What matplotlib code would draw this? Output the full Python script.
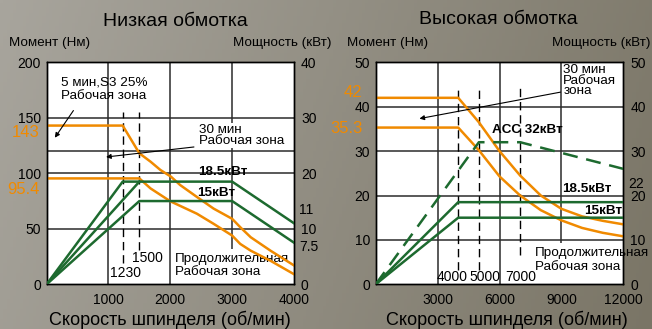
import numpy as np
import matplotlib
matplotlib.use("Agg")
import matplotlib.pyplot as plt
from matplotlib.transforms import blended_transform_factory
from matplotlib.patches import Rectangle

plt.rcParams['font.family'] = ['Liberation Sans', 'DejaVu Sans']

# ---------------- data: low-speed winding ----------------
low_xticks = [1000, 2000, 3000, 4000]
low_torque_ticks = [0, 50, 100, 150, 200]
low_power_ticks = [0, 10, 20, 30, 40]

low_s3_speed = [0, 1230, 1500, 1680, 1840, 2010, 2160, 2430, 2700, 3000, 3130, 3300, 3620, 4000]
low_s3_torque = [143, 143, 118, 110.5, 103, 97, 89.4, 78.7, 68.2, 59, 51.5, 42.4, 30.3, 17]
low_30_speed = [0, 1500, 1680, 2000, 2430, 2700, 3000, 3130, 3300, 3620, 4000]
low_30_torque = [95.4, 95.4, 86.4, 74.8, 63.6, 54.5, 43.9, 36.4, 30.3, 21.2, 9.1]

low_p185a_speed = [0, 1230, 3000, 4000]
low_p185a_power = [0, 18.5, 18.5, 11]
low_p185b_speed = [0, 1500]
low_p185b_power = [0, 18.5]
low_p15_speed = [0, 1500, 3000, 4000]
low_p15_power = [0, 15, 15, 7.5]
low_base_speeds = [1230, 1500]

# ---------------- data: high-speed winding ----------------
high_xticks = [3000, 6000, 9000, 12000]
high_torque_ticks = [0, 10, 20, 30, 40, 50]
high_power_ticks = [0, 10, 20, 30, 40, 50]

high_s3_speed = [0, 4000, 5000, 6000, 7000, 8000, 9000, 10000, 11000, 12000]
high_s3_torque = [42, 42, 36.5, 30, 24.5, 20, 17, 15.3, 14.3, 13.5]
high_30_speed = [0, 4000, 5000, 6000, 7000, 8000, 9000, 10000, 11000, 12000]
high_30_torque = [35.3, 35.3, 30.2, 24.3, 20, 16.7, 14.4, 12.7, 11.6, 10.8]

high_p185_speed = [0, 4000, 12000]
high_p185_power = [0, 18.5, 18.5]
high_p15_speed = [0, 4000, 12000]
high_p15_power = [0, 15, 15]
high_acc_speed = [0, 5000, 7000, 12000]
high_acc_power = [0, 32, 32, 26]
high_base_speeds = [4000, 5000, 7000]

ORANGE = '#f08a00'
GREEN = '#1d6a2f'
GRID = '#2b2b2b'
TICK_FS = 10
LABEL_FS = 9.7

W, H = 652, 329
fig = plt.figure(figsize=(W / 100, H / 100), dpi=100)

# background gradient
bg = fig.add_axes([0, 0, 1, 1], zorder=-10)
xx = np.linspace(0, 1, 200)[None, :]
yy = np.linspace(0, 1, 100)[:, None]
c0 = np.array([168, 165, 157]) / 255
c1 = np.array([122, 117, 102]) / 255
t = np.clip(0.85 * xx + 0.15 * yy, 0, 1)
img = c0[None, None, :] * (1 - t[..., None]) + c1[None, None, :] * t[..., None]
bg.imshow(img, aspect='auto', extent=[0, 1, 0, 1], origin='upper')
bg.set_axis_off()


def px_axes(x0, x1, y0, y1):
    return fig.add_axes([x0 / W, 1 - y1 / H, (x1 - x0) / W, (y1 - y0) / H])


def style(ax, ax2, xmax, xticks, ymax, yticks, pmax, pticks):
    ax.set_facecolor('white')
    ax.set_xlim(0, xmax)
    ax.set_ylim(0, ymax)
    ax2.set_ylim(0, pmax)
    ax.set_xticks(xticks)
    ax.set_yticks(yticks)
    ax2.set_yticks(pticks)
    for a in (ax, ax2):
        a.tick_params(length=0, labelsize=TICK_FS, colors='black')
        for s in a.spines.values():
            s.set_color('black')
            s.set_linewidth(1.0)
    ax.tick_params(axis='x', pad=6.5)
    ax.tick_params(axis='y', pad=4)
    ax2.tick_params(axis='y', pad=5)


# ================= low-speed winding =================
ax = px_axes(46.6, 294, 62.3, 284.3)
ax2 = ax.twinx()
style(ax, ax2, 4000, low_xticks, 200, low_torque_ticks, 40, low_power_ticks)
for xv in low_xticks[:-1]:
    ax.axvline(xv, color=GRID, lw=1.1, zorder=1)
for yv in [50, 100, 120, 150]:
    ax.axhline(yv, color=GRID, lw=1.1, zorder=1)

ax.add_patch(Rectangle((2040, 0.5), 1955, 31, facecolor='white', edgecolor='none', zorder=2))
for xv, ylo in zip(low_base_speeds, [19.5, 30.5]):
    ax.plot([xv, xv], [ylo, 155], color='black', lw=1.0, dashes=(6, 3.5), zorder=3)

ax.plot(low_s3_speed, low_s3_torque, color=ORANGE, lw=1.8, zorder=5)
ax.plot(low_30_speed, low_30_torque, color=ORANGE, lw=1.8, zorder=5)
ax2.plot(low_p185a_speed, low_p185a_power, color=GREEN, lw=1.8, zorder=5)
ax2.plot(low_p185b_speed, low_p185b_power, color=GREEN, lw=1.8, zorder=5)
ax2.plot(low_p15_speed, low_p15_power, color=GREEN, lw=1.8, zorder=5)

ax.text(930, 175.5, '5 мин,S3 25%\nРабочая зона', fontsize=LABEL_FS, ha='center', va='center',
        linespacing=1.2, zorder=6)
ax.annotate('', xy=(108, 130), xytext=(459, 158.6),
            arrowprops=dict(arrowstyle='-|>', color='black', lw=0.8, mutation_scale=7), zorder=6)
ax.text(2469, 134, '30 мин\nРабочая зона', fontsize=LABEL_FS, ha='left', va='center',
        linespacing=0.95, zorder=6,
        bbox=dict(facecolor='white', edgecolor='none', pad=0.8))
ax.annotate('', xy=(917, 114.4), xytext=(2427, 124),
            arrowprops=dict(arrowstyle='-|>', color='black', lw=0.8, mutation_scale=7), zorder=6)
ax.text(2843, 101.4, '18.5кВт', fontsize=LABEL_FS, fontweight='bold', ha='center', va='center', zorder=6)
ax.text(2737, 82.5, '15кВт', fontsize=LABEL_FS, fontweight='bold', ha='center', va='center', zorder=6)
ax.text(2076, 16.7, 'Продолжительная\nРабочая зона', fontsize=LABEL_FS, ha='left', va='center',
        linespacing=1.15, zorder=4)
ax.text(1632, 23.4, '1500', fontsize=TICK_FS, ha='center', va='center', zorder=6)
ax.text(1268, 9.9, '1230', fontsize=TICK_FS, ha='center', va='center', zorder=6)

tr = blended_transform_factory(ax.transAxes, ax.transData)
ax.text(-0.03, 136.6, '143', color=ORANGE, fontsize=12, ha='right', va='center', transform=tr)
ax.text(-0.03, 85.5, '95.4', color=ORANGE, fontsize=12, ha='right', va='center', transform=tr)
tr2 = blended_transform_factory(ax2.transAxes, ax2.transData)
ax2.text(1.022, 13.4, '11', fontsize=TICK_FS, ha='left', va='center', transform=tr2)
ax2.text(1.022, 6.7, '7.5', fontsize=TICK_FS, ha='left', va='center', transform=tr2)

# ================= high-speed winding =================
bx = px_axes(375.7, 623.3, 62.3, 284.3)
bx2 = bx.twinx()
style(bx, bx2, 12000, high_xticks, 50, high_torque_ticks, 50, high_power_ticks)
for xv in high_xticks[:-1]:
    bx.axvline(xv, color=GRID, lw=1.1, zorder=1)
for yv in [10, 20, 30, 40]:
    bx.axhline(yv, color=GRID, lw=1.1, zorder=1)

bx.add_patch(Rectangle((7620, 0.1), 4370, 9.2, facecolor='white', edgecolor='none', zorder=2))
for xv, ylo in zip(high_base_speeds, [3.2, 3.2, 6.6]):
    bx.plot([xv, xv], [ylo, 44.4], color='black', lw=1.0, dashes=(6, 3.5), zorder=3)

bx.plot(high_s3_speed, high_s3_torque, color=ORANGE, lw=1.8, zorder=5)
bx.plot(high_30_speed, high_30_torque, color=ORANGE, lw=1.8, zorder=5)
bx2.plot(high_p185_speed, high_p185_power, color=GREEN, lw=1.8, zorder=5)
bx2.plot(high_p15_speed, high_p15_power, color=GREEN, lw=1.8, zorder=5)
bx2.plot(high_acc_speed, high_acc_power, color=GREEN, lw=1.8, dashes=(6, 3.5), zorder=5)

bx.text(9093, 49.6, '30 мин\nРабочая\nзона', fontsize=LABEL_FS, ha='left', va='top',
        linespacing=0.85, zorder=6)
bx.annotate('', xy=(1987, 37.2), xytext=(9093, 43.4),
            arrowprops=dict(arrowstyle='-|>', color='black', lw=0.8, mutation_scale=7), zorder=6)
bx.text(7358, 34.7, 'ACC 32кВт', fontsize=LABEL_FS, fontweight='bold', ha='center', va='center', zorder=6)
bx.text(10251, 21.5, '18.5кВт', fontsize=LABEL_FS, fontweight='bold', ha='center', va='center', zorder=6)
bx.text(11027, 16.5, '15кВт', fontsize=LABEL_FS, fontweight='bold', ha='center', va='center', zorder=6)
bx.text(7721, 5.5, 'Продолжительная\nРабочая зона', fontsize=LABEL_FS, ha='left', va='center',
        linespacing=1.2, zorder=4, clip_on=False)
for xv, lab in zip([3722, 5274, 7018], ['4000', '5000', '7000']):
    bx.text(xv, 1.7, lab, fontsize=TICK_FS, ha='center', va='center', zorder=6)

trb = blended_transform_factory(bx.transAxes, bx.transData)
bx.text(-0.054, 43.2, '42', color=ORANGE, fontsize=12, ha='right', va='center', transform=trb)
bx.text(-0.054, 35.1, '35.3', color=ORANGE, fontsize=12, ha='right', va='center', transform=trb)
trb2 = blended_transform_factory(bx2.transAxes, bx2.transData)
bx2.text(1.022, 22.7, '22', fontsize=TICK_FS, ha='left', va='center', transform=trb2)

# ---------------- titles and axis captions ----------------
fig.text(175 / W, 1 - 21 / H, 'Низкая обмотка', fontsize=14, ha='center', va='center')
fig.text(498.7 / W, 1 - 20 / H, 'Высокая обмотка', fontsize=14, ha='center', va='center')
fig.text(50 / W, 1 - 43.3 / H, 'Момент (Нм)', fontsize=LABEL_FS, ha='center', va='center')
fig.text(282 / W, 1 - 43.3 / H, 'Мощность (кВт)', fontsize=LABEL_FS, ha='center', va='center')
fig.text(387.2 / W, 1 - 43.3 / H, 'Момент (Нм)', fontsize=LABEL_FS, ha='center', va='center')
fig.text(601.5 / W, 1 - 43.3 / H, 'Мощность (кВт)', fontsize=LABEL_FS, ha='center', va='center')
fig.text(170 / W, 1 - 320 / H, 'Скорость шпинделя (об/мин)', fontsize=13, ha='center', va='center')
fig.text(506.7 / W, 1 - 320 / H, 'Скорость шпинделя (об/мин)', fontsize=13, ha='center', va='center')

fig.savefig('out.png', dpi=100)
